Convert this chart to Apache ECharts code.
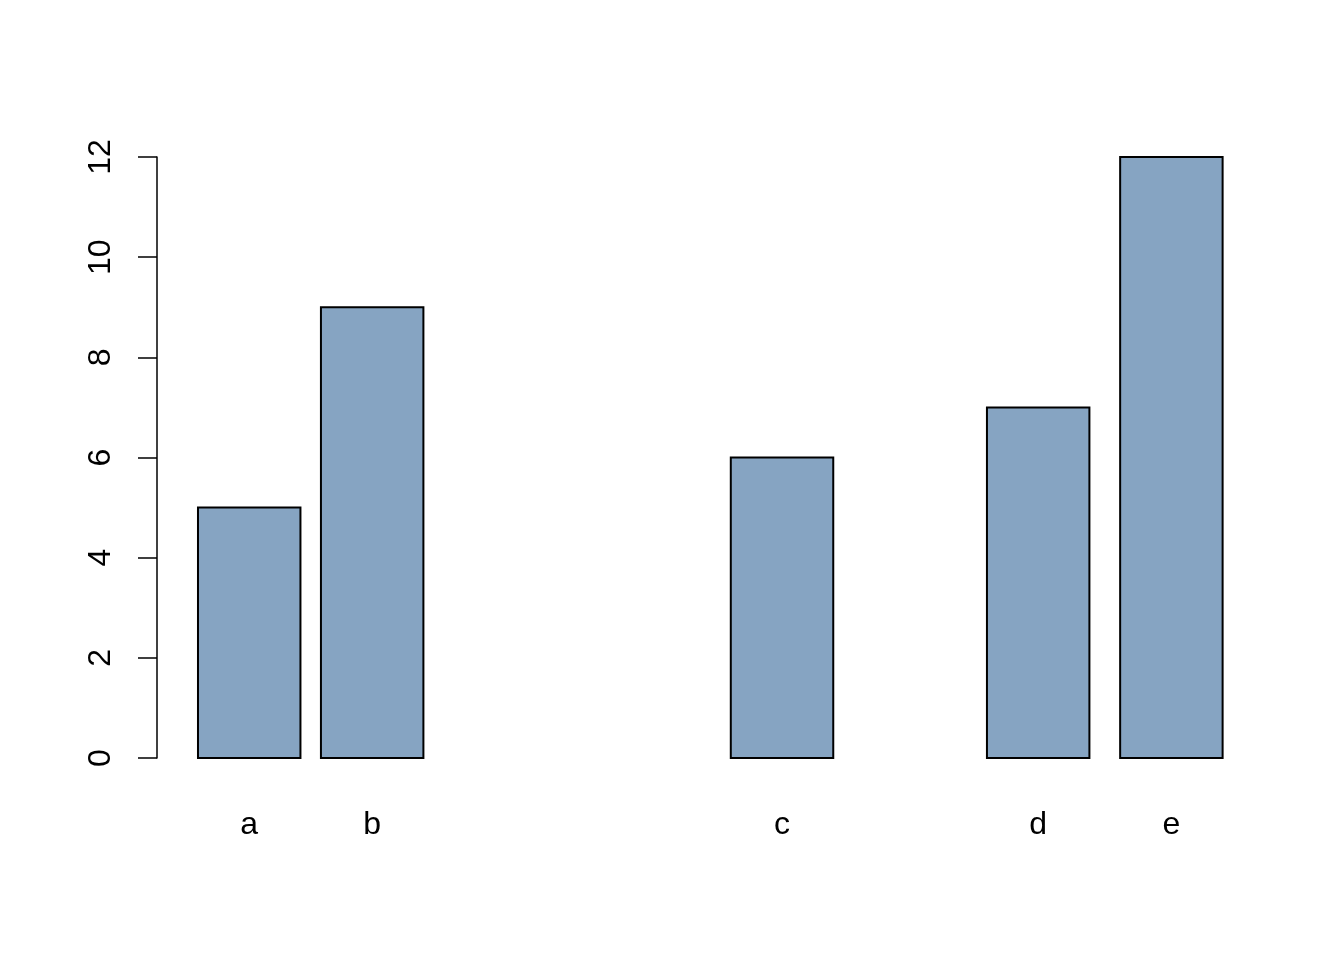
<!DOCTYPE html>
<html>
<head>
<meta charset="utf-8">
<script src="https://cdn.jsdelivr.net/npm/echarts@6/dist/echarts.min.js"></script>
<style>html,body{margin:0;padding:0;background:#fff;}#chart{width:1344px;height:960px;}</style>
</head>
<body>
<div id="chart"></div>
<script>
var categories = ['a', 'b', 'c', 'd', 'e'];
var values = [5, 9, 6, 7, 12];
var spaces = [0, 0.2, 3, 1.5, 0.3];
var yTicks = [0, 2, 4, 6, 8, 10, 12];

var barWidth = 1;
var data = [];
var pos = 0;
for (var i = 0; i < categories.length; i++) {
  pos += spaces[i];
  data.push([pos, pos + barWidth, values[i], categories[i]]);
  pos += barWidth;
}

var chart = echarts.init(document.getElementById('chart'));
chart.setOption({
  animation: false,
  backgroundColor: '#ffffff',
  grid: { left: 157, right: 80.4, top: 157, bottom: 202 },
  xAxis: {
    type: 'value', min: -0.4, max: 10.4,
    show: false
  },
  yAxis: {
    type: 'value', min: yTicks[0], max: yTicks[yTicks.length - 1], interval: 2,
    axisLine: { show: true, onZero: false, lineStyle: { color: '#000', width: 1.5 } },
    axisTick: { show: true, length: 19, lineStyle: { color: '#000', width: 1.5 } },
    axisLabel: { rotate: 90, margin: 40, color: '#000', fontSize: 32, fontFamily: 'Liberation Sans, Arial, sans-serif' },
    splitLine: { show: false }
  },
  series: [{
    type: 'custom',
    data: data,
    encode: { x: [0, 1], y: 2 },
    renderItem: function (params, api) {
      var p0 = api.coord([api.value(0), 0]);
      var p1 = api.coord([api.value(1), api.value(2)]);
      var label = categories[params.dataIndex];
      return {
        type: 'group',
        children: [{
          type: 'rect',
          shape: { x: p0[0], y: p1[1], width: p1[0] - p0[0], height: p0[1] - p1[1] },
          style: { fill: '#86A4C2', stroke: '#000', lineWidth: 2 }
        }, {
          type: 'text',
          x: (p0[0] + p1[0]) / 2,
          y: p0[1] + 67,
          style: { text: label, fill: '#000', fontSize: 32, fontFamily: 'Liberation Sans, Arial, sans-serif', align: 'center', verticalAlign: 'middle' }
        }]
      };
    }
  }]
});
</script>
</body>
</html>
